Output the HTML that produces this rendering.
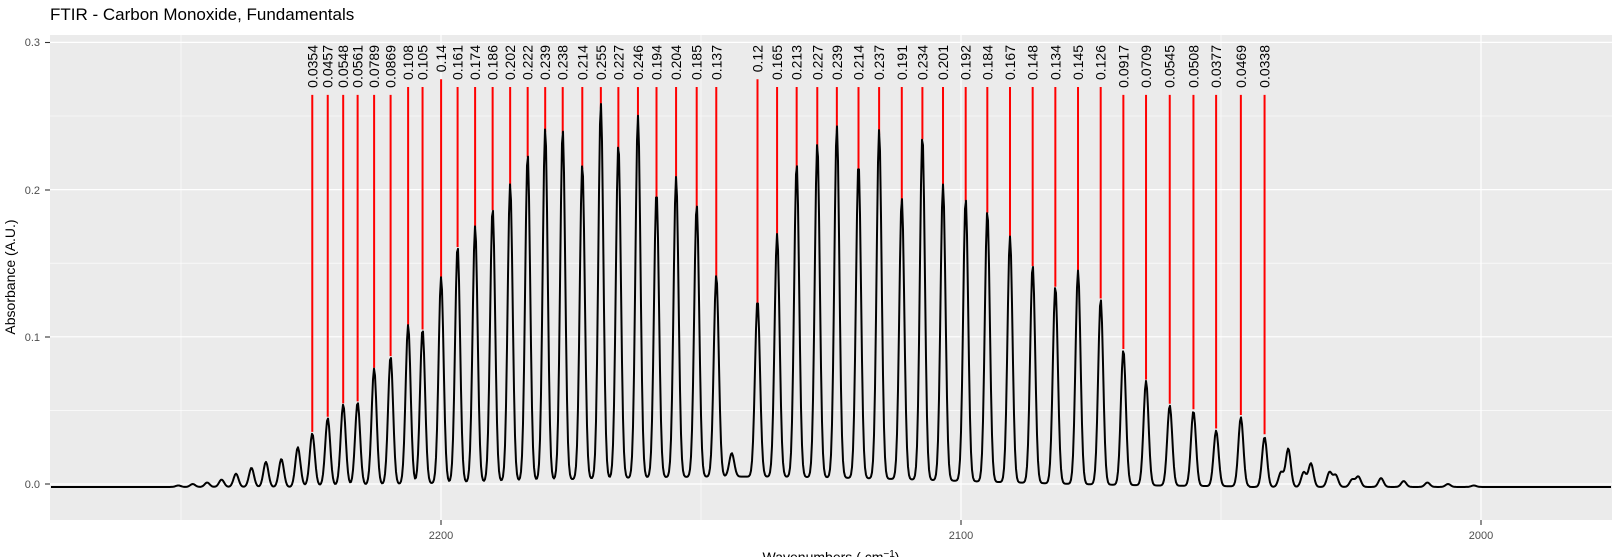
<!DOCTYPE html>
<html><head><meta charset="utf-8"><style>
html,body{margin:0;padding:0;background:#fff;}
svg{display:block;font-family:"Liberation Sans",sans-serif;}
</style></head><body>
<svg id="s" width="1616" height="557" xmlns="http://www.w3.org/2000/svg">
<rect x="0" y="0" width="1616" height="557" fill="#fff"/>
<rect x="50" y="35" width="1562" height="485" fill="#EBEBEB"/>
<g id="grid"></g>
<g id="red" stroke="#FF0000" stroke-width="2"></g>
<path id="spec" fill="none" stroke="#000" stroke-width="2" stroke-linejoin="round"/>
<g id="lab" font-size="14" fill="#000"></g>
<text x="50" y="20" font-size="17" fill="#000">FTIR - Carbon Monoxide, Fundamentals</text>
<g font-size="11" fill="#4D4D4D" text-anchor="end">
<text x="40" y="488">0.0</text><text x="40" y="341">0.1</text><text x="40" y="194">0.2</text><text x="40" y="46">0.3</text>
</g>
<g stroke="#333" stroke-width="1.1">
<line x1="45" x2="50" y1="484" y2="484"/><line x1="45" x2="50" y1="337" y2="337"/><line x1="45" x2="50" y1="190" y2="190"/><line x1="45" x2="50" y1="42.5" y2="42.5"/>
<line x1="441" x2="441" y1="520" y2="525"/><line x1="961" x2="961" y1="520" y2="525"/><line x1="1481" x2="1481" y1="520" y2="525"/>
</g>
<g font-size="11" fill="#4D4D4D" text-anchor="middle">
<text x="441" y="539">2200</text><text x="961" y="539">2100</text><text x="1481" y="539">2000</text>
</g>
<text x="831" y="562" font-size="14" text-anchor="middle">Wavenumbers ( cm<tspan dy="-5" font-size="10">−1</tspan><tspan dy="5">)</tspan></text>
<text transform="translate(15,277) rotate(-90)" font-size="14" text-anchor="middle">Absorbance (A.U.)</text>
</svg>
<script>
var S=1616/1568;
function Y(v){return 484-v*1472;}
function X(p){return p*S;}
var g=document.getElementById('grid'),h='';
[2250,2150,2050,1950].forEach(function(w){var x=441+(2200-w)*5.2;if(x>50&&x<1612)h+='<line x1="'+x+'" x2="'+x+'" y1="35" y2="520" stroke="#fff" stroke-width="0.6"/>';});
[0.05,0.15,0.25].forEach(function(v){h+='<line x1="50" x2="1612" y1="'+Y(v)+'" y2="'+Y(v)+'" stroke="#fff" stroke-width="0.6"/>';});
[441,961,1481].forEach(function(x){h+='<line x1="'+x+'" x2="'+x+'" y1="35" y2="520" stroke="#fff" stroke-width="1.2"/>';});
[0,0.1,0.2,0.3].forEach(function(v){h+='<line x1="50" x2="1612" y1="'+Y(v)+'" y2="'+Y(v)+'" stroke="#fff" stroke-width="1.2"/>';});
g.innerHTML=h;
var L=[[303,"0.0354"],[318,"0.0457"],[333,"0.0548"],[347,"0.0561"],[363,"0.0789"],[379,"0.0869"],[396,"0.108"],[410,"0.105"],[428,"0.14"],[444,"0.161"],[461,"0.174"],[478,"0.186"],[495,"0.202"],[512,"0.222"],[529,"0.239"],[546,"0.238"],[565,"0.214"],[583,"0.255"],[600,"0.227"],[619,"0.246"],[637,"0.194"],[656,"0.204"],[676,"0.185"],[695,"0.137"],
[735,"0.12"],[754,"0.165"],[773,"0.213"],[793,"0.227"],[812,"0.239"],[833,"0.214"],[853,"0.237"],[875,"0.191"],[895,"0.234"],[915,"0.201"],[937,"0.192"],[958,"0.184"],[980,"0.167"],[1002,"0.148"],[1024,"0.134"],[1046,"0.145"],[1068,"0.126"],[1090,"0.0917"],[1112,"0.0709"],[1135,"0.0545"],[1158,"0.0508"],[1180,"0.0377"],[1204,"0.0469"],[1227,"0.0338"]];
var extra=[[289,.027],[273,.019],[258,.017],[244,.013],[229,.009],[215,.005],[201,.003],[187,.002],[173,.001],[710,.016],[1250,.026],[1243,.01],[1272,.016],[1265,.01],[1290,.01],[1296,.008],[1318,.007],[1312,.005],[1340,.006],[1362,.004],[1385,.003],[1405,.002],[1430,.001]];
var pk=[],r='',lb='';
L.forEach(function(a){var x=X(a[0]),v=parseFloat(a[1]);pk.push([x,v]);
var len=0;for(var i=0;i<a[1].length;i++)len+=(a[1][i]=='.')?3.89:7.79;
var top=45+len+7;
r+='<line x1="'+x+'" x2="'+x+'" y1="'+top+'" y2="'+Y(v)+'"/>';
lb+='<text transform="translate('+(x+5)+',45) rotate(-90)" text-anchor="end">'+a[1]+'</text>';});
extra.forEach(function(a){pk.push([X(a[0]),a[1]]);});
document.getElementById('red').innerHTML=r;
document.getElementById('lab').innerHTML=lb;
var d='';
for(var x=51;x<=1611;x+=1){var v=-0.002;
if(x>300&&x<1250){v+=0.007*Math.exp(-Math.pow((x-740)/300,2));}
for(var k=0;k<pk.length;k++){var dx=x-pk[k][0];if(Math.abs(dx)<16)v+=pk[k][1]*Math.exp(-dx*dx/(2*2.5*2.5));}
d+=(x==51?'M':'L')+x+','+Y(v).toFixed(2);}
document.getElementById('spec').setAttribute('d',d);
</script>
</body></html>
